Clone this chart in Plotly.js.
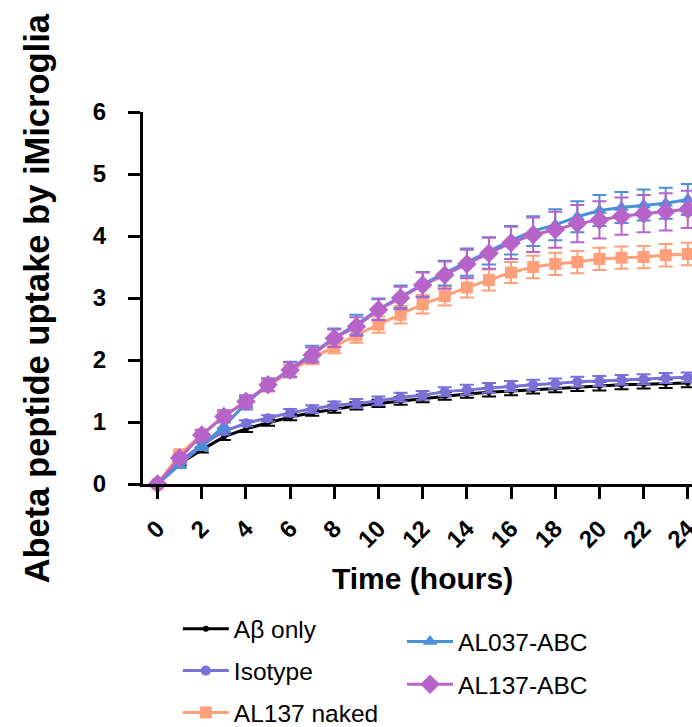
<!DOCTYPE html>
<html><head><meta charset="utf-8">
<script src="https://cdn.plot.ly/plotly-3.0.1.min.js"></script>
<style>html,body{margin:0;padding:0;background:#fff}#chart{width:692px;height:727px}</style>
</head><body><div id="chart"></div>
<script>
const hours = [0,1,2,3,4,5,6,7,8,9,10,11,12,13,14,15,16,17,18,19,20,21,22,23,24];
const xTicks = [0,2,4,6,8,10,12,14,16,18,20,22,24];
const seriesNames = ['A\u03b2 only','Isotype','AL137 naked','AL037-ABC','AL137-ABC'];
const xTitle = 'Time (hours)';
const yTitle = 'Abeta peptide uptake by iMicroglia';

const abOnly    = [0,0.33,0.55,0.76,0.89,0.99,1.08,1.15,1.21,1.26,1.30,1.34,1.38,1.42,1.45,1.48,1.50,1.53,1.55,1.57,1.58,1.60,1.61,1.62,1.63];
const abOnlySd  = [0,0.03,0.04,0.05,0.05,0.05,0.05,0.05,0.06,0.06,0.06,0.06,0.06,0.06,0.06,0.07,0.07,0.07,0.07,0.07,0.07,0.07,0.07,0.07,0.07];
const isotype   = [0,0.37,0.63,0.85,0.98,1.06,1.15,1.21,1.27,1.30,1.34,1.40,1.43,1.49,1.52,1.55,1.58,1.60,1.62,1.65,1.66,1.68,1.69,1.71,1.72];
const isotypeSd = [0,0.03,0.04,0.05,0.05,0.05,0.06,0.06,0.06,0.07,0.07,0.07,0.07,0.07,0.08,0.08,0.08,0.08,0.08,0.08,0.08,0.08,0.08,0.08,0.08];
const al137naked   = [0,0.48,0.80,1.10,1.33,1.58,1.82,2.03,2.22,2.40,2.57,2.73,2.90,3.03,3.17,3.29,3.41,3.50,3.55,3.58,3.63,3.65,3.66,3.69,3.71];
const al137nakedSd = [0,0.04,0.06,0.07,0.08,0.09,0.10,0.10,0.11,0.12,0.13,0.14,0.15,0.15,0.16,0.17,0.17,0.18,0.18,0.18,0.18,0.18,0.18,0.18,0.18];
const al037abc   = [0,0.31,0.62,0.93,1.30,1.60,1.85,2.10,2.36,2.57,2.82,3.02,3.22,3.40,3.58,3.76,3.93,4.08,4.18,4.31,4.41,4.46,4.50,4.53,4.59];
const al037abcSd = [0,0.05,0.07,0.09,0.10,0.10,0.12,0.13,0.15,0.16,0.17,0.18,0.20,0.20,0.22,0.22,0.23,0.24,0.25,0.25,0.25,0.25,0.25,0.25,0.25];
const al137abc   = [0,0.42,0.79,1.09,1.33,1.60,1.84,2.08,2.35,2.54,2.81,3.00,3.21,3.37,3.55,3.72,3.89,4.02,4.10,4.20,4.26,4.32,4.36,4.39,4.43];
const al137abcSd = [0,0.05,0.08,0.10,0.10,0.10,0.12,0.12,0.14,0.15,0.17,0.18,0.20,0.22,0.23,0.25,0.26,0.28,0.29,0.30,0.30,0.30,0.30,0.30,0.30];

const FONT = 'Liberation Sans, Arial, Helvetica, sans-serif';

function mk(name, y, sd, color, symbol, size, legend, rank) {
  return {
    type: 'scatter', mode: 'lines+markers', name: name, x: hours, y: y,
    line: {color: color, width: 3},
    marker: {color: color, symbol: symbol, size: size},
    error_y: {type: 'data', array: sd, visible: true, color: color, thickness: 2, width: 7},
    cliponaxis: false, legend: legend, legendgroup: name, legendrank: rank
  };
}

const data = [
  mk(seriesNames[0], abOnly, abOnlySd, '#000000', 'circle', 6, 'legend', 1),
  mk(seriesNames[1], isotype, isotypeSd, '#7b6fd8', 'circle', 10, 'legend', 2),
  mk(seriesNames[2], al137naked, al137nakedSd, '#ffa07a', 'square', 12, 'legend', 3),
  mk(seriesNames[3], al037abc, al037abcSd, '#4a90d9', 'triangle-up', 13, 'legend2', 1),
  mk(seriesNames[4], al137abc, al137abcSd, '#b664c9', 'diamond', 15, 'legend2', 2)
];

const axisCommon = {
  showline: true, linecolor: '#000', linewidth: 3,
  ticks: 'outside', ticklen: 12, tickwidth: 3, tickcolor: '#000',
  showgrid: false, zeroline: false, ticklabeloverflow: 'allow',
  tickfont: {family: FONT, size: 24, color: '#000', weight: 'bold'}
};

const layout = {
  width: 692, height: 727,
  margin: {l: 142.7, r: 0, t: 111.7, b: 242.7, autoexpand: false},
  paper_bgcolor: '#fff', plot_bgcolor: '#fff',
  showlegend: true,
  xaxis: Object.assign({}, axisCommon, {
    range: [-0.66, 24.19], tickvals: xTicks, tickangle: -45, ticklabelstandoff: 6
  }),
  yaxis: Object.assign({}, axisCommon, {
    range: [0, 6], dtick: 1, ticklabelstandoff: 17
  }),
  annotations: [
    {text: xTitle, xref: 'paper', yref: 'paper', x: 0.509, y: -0.254, xanchor: 'center', yanchor: 'middle', showarrow: false,
     font: {family: FONT, size: 30, color: '#000', weight: 'bold'}},
    {text: yTitle, xref: 'paper', yref: 'paper', x: -0.1924, y: 0.5, xanchor: 'center', yanchor: 'middle', showarrow: false, textangle: -90,
     font: {family: FONT, size: 34.5, color: '#000', weight: 'bold'}}
  ],
  legend: {xref: 'container', yref: 'container', x: 0.257, y: 0.166, xanchor: 'left', yanchor: 'top', font: {family: FONT, size: 24.5, color: '#000'}, tracegroupgap: 7, bgcolor: 'rgba(0,0,0,0)', itemwidth: 46},
  legend2: {xref: 'container', yref: 'container', x: 0.581, y: 0.1486, xanchor: 'left', yanchor: 'top', font: {family: FONT, size: 24.5, color: '#000'}, tracegroupgap: 8, bgcolor: 'rgba(0,0,0,0)', itemwidth: 46}
};

Plotly.newPlot('chart', data, layout, {displayModeBar: false, staticPlot: true});
</script>
</body></html>
